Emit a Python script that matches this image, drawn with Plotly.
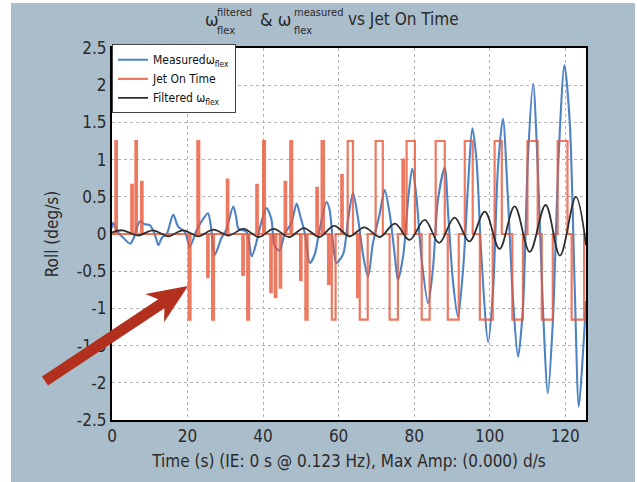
import math
import plotly.graph_objects as go

# ---------------- data ----------------
meas_t = [0, 0.3, 1.5, 3, 4.8, 5.7, 7.4, 8.7, 10, 11.3, 12.3, 13.2, 14.5, 16.2, 17.5, 19.3, 20.6,
          22.4, 24.1, 25.4, 26.2, 27.2, 29, 30.2, 32.1, 32.9, 33.5, 35.6, 37, 38.4, 39.6, 40.9,
          42.2, 43.1, 44.4, 45.7, 47.5, 48.9, 49.8, 51.1, 52.4, 53.7, 55, 56.8, 57.6, 58.5, 59.4,
          61.2, 62.5, 63.8, 65.2, 66.5, 67.8, 69.1, 70.9, 72.2, 73.5, 74.9, 75.7, 77.1, 78.4,
          79.5, 80.6, 81.9, 83.7, 85, 86.3, 88.1, 89, 90.3, 91.6, 93, 94.3, 95.4, 96.5, 97.8,
          99.6, 100.9, 102.2, 103.5, 104.8, 106.2, 107.5, 108.8, 110.1, 111.5, 112.8, 114.1,
          115.4, 116.7, 118.3, 119.8, 121.2, 122.5, 123.6, 124.7, 125.5]
meas_v = [0.08, 0.15, 0.03, -0.05, -0.13, -0.06, 0.17, 0.13, 0.12, 0.0, -0.15, -0.05, 0.0, 0.26,
          0.1, 0.03, -0.17, 0.05, 0.2, 0.28, 0.1, -0.28, -0.05, 0.05, 0.37, 0.22, 0.07, 0.03,
          -0.3, -0.08, 0.17, 0.35, 0.2, -0.17, -0.22, 0.0, 0.15, 0.41, 0.25, 0.0, -0.39, -0.27,
          0.07, 0.43, 0.33, -0.1, -0.39, -0.27, 0.19, 0.55, 0.19, -0.29, -0.57, -0.12, 0.28,
          0.59, 0.28, -0.3, -0.62, -0.29, 0.46, 0.88, 0.5, -0.3, -0.93, -0.45, 0.46, 0.89, 0.28,
          -0.65, -1.11, -0.45, 0.68, 1.42, 1.0, -0.3, -1.45, -0.75, 0.9, 1.55, 0.5, -0.9, -1.65,
          -1.0, 1.0, 2.02, 0.8, -1.0, -2.14, -1.2, 1.1, 2.27, 1.5, -0.7, -2.32, -1.6, -0.9]

filt_t = [0, 2.8, 6.9, 10.8, 14.9, 18.8, 22.9, 26.8, 30.9, 34.8, 38.9, 42.8, 46.9, 50.8, 54.9,
          58.8, 62.9, 66.8, 70.9, 74.9, 78.8, 82.8, 86.6, 90.7, 94.6, 98.7, 102.6, 106.6, 110.6,
          114.8, 118.6, 122.8, 125.5]
filt_v = [0.02, 0.05, -0.02, 0.05, -0.03, 0.05, -0.03, 0.06, -0.02, 0.07, -0.04, 0.07, -0.04,
          0.08, -0.04, 0.11, -0.03, 0.09, -0.04, 0.14, -0.08, 0.19, -0.12, 0.22, -0.1, 0.3, -0.2,
          0.37, -0.24, 0.39, -0.29, 0.5, -0.15]

jet_start = [0.9, 5.1, 6.2, 7.7, 20.3, 22.6, 25.2, 26.5, 30.4, 34.5, 35.8, 38.2, 40.0, 41.9,
             43.1, 44.4, 45.7, 47.2, 49.8, 51.2, 54.1, 55.5, 57.2, 58.2, 60.7, 62.4, 64.9, 65.6,
             69.8, 73.5, 76.9, 78.0, 82.0, 85.7, 88.9, 93.4, 97.4, 101.3, 106.0, 110.0, 113.8,
             118.0, 121.7]
jet_end = [1.3, 5.5, 6.6, 8.1, 20.8, 23.1, 25.6, 27.0, 30.8, 34.9, 36.3, 38.6, 40.5, 42.3,
           43.5, 44.8, 46.1, 47.7, 50.2, 51.8, 54.5, 56.1, 57.6, 59.2, 61.1, 63.8, 65.3, 67.7,
           71.7, 75.7, 77.3, 80.2, 84.1, 88.1, 91.8, 95.5, 100.8, 103.2, 108.8, 112.7, 116.7,
           120.6, 125.0]
jet_level = [1.25, 0.66, 1.25, 0.70, -1.15, 1.25, -0.58, -1.15, 0.73, -0.55, -1.15, 0.66, 1.25,
             -0.78, -0.85, -0.72, 0.70, 1.25, -0.62, -1.15, 0.62, 1.25, -0.67, -1.15, 0.79, 1.25,
             -0.85, -1.15, 1.25, -1.15, 1.0, 1.25, -1.15, 1.25, -1.15, 1.25, -1.15, 1.25, -1.15,
             1.25, -1.15, 1.25, -1.15]

x_tick_vals = [0, 20, 40, 60, 80, 100, 120]
x_tick_text = ["0", "20", "40", "60", "80", "100", "120"]
y_tick_vals = [2.5, 2, 1.5, 1, 0.5, 0, -0.5, -1, -1.5, -2, -2.5]
y_tick_text = ["2.5", "2", "1.5", "1", "0.5", "0", "-0.5", "-1", "-1.5", "-2", "-2.5"]

# ---------------- build jet step series from pulses ----------------
jet_t, jet_v = [0.0], [0.0]
for s, e, lv in zip(jet_start, jet_end, jet_level):
    jet_t += [s, s, e, e]
    jet_v += [0, lv, lv, 0]
jet_t.append(125.5)
jet_v.append(0)

# ---------------- layout geometry ----------------
W, H = 637, 482
L, R, T, B = 112, 51, 48, 62
PW, PH = W - L - R, H - T - B


def px(x):
    return (x - L) / PW


def py(y):
    return 1 - (y - T) / PH


FONT = "DejaVu Sans Condensed, Roboto Condensed, Liberation Sans Narrow, Roboto, sans-serif"
TXT = "#2a2a2a"
BG = "#aabdca"

fig = go.Figure()
fig.add_trace(go.Scatter(x=meas_t, y=meas_v, mode="lines", name="Measuredω<sub>flex</sub>",
                         line=dict(color="#4d82c4", width=2.1, shape="spline", smoothing=0.8)))
fig.add_trace(go.Scatter(x=jet_t, y=jet_v, mode="lines", name="Jet On Time",
                         line=dict(color="rgba(232,88,58,0.8)", width=2.2)))
fig.add_trace(go.Scatter(x=filt_t, y=filt_v, mode="lines", name="Filtered ω<sub>flex</sub>",
                         line=dict(color="#2e2e2e", width=1.8, shape="spline", smoothing=1.0)))

ann = []
ty = py(19)
SUP, SUB = py(12), py(30)
ann.append(dict(text="ω", x=px(203), y=ty, font=dict(size=18)))
ann.append(dict(text="filtered", x=px(215), y=SUP, font=dict(size=11)))
ann.append(dict(text="flex", x=px(215), y=SUB, font=dict(size=11)))
ann.append(dict(text="& ω", x=px(258), y=ty, font=dict(size=18)))
ann.append(dict(text="measured", x=px(292), y=SUP, font=dict(size=11)))
ann.append(dict(text="flex", x=px(292), y=SUB, font=dict(size=11)))
ann.append(dict(text="vs Jet On Time", x=px(346), y=ty, font=dict(size=17)))
for a in ann:
    a.update(xref="paper", yref="paper", showarrow=False, xanchor="left", yanchor="middle")
    a["font"].update(family=FONT, color=TXT)

# ---------------- red arrow as a filled polygon ----------------
tail = (45, 381)
tip = (188, 286)
dx, dy = tip[0] - tail[0], tip[1] - tail[1]
ln = math.hypot(dx, dy)
ux, uy = dx / ln, dy / ln
nx, ny = -uy, ux
sw, hl, hw, notch = 5.5, 40, 17, 8
neck = (tip[0] - ux * (hl - notch), tip[1] - uy * (hl - notch))
base = (tip[0] - ux * hl, tip[1] - uy * hl)
pts = [
    (tail[0] + nx * sw, tail[1] + ny * sw),
    (neck[0] + nx * sw, neck[1] + ny * sw),
    (base[0] + nx * hw, base[1] + ny * hw),
    tip,
    (base[0] - nx * hw, base[1] - ny * hw),
    (neck[0] - nx * sw, neck[1] - ny * sw),
    (tail[0] - nx * sw, tail[1] - ny * sw),
]
path = "M " + " L ".join(f"{px(a):.5f},{py(b):.5f}" for a, b in pts) + " Z"

shapes = [
    dict(type="path", path=path, xref="paper", yref="paper", fillcolor="#b3301f",
         line=dict(width=0), layer="above"),
    dict(type="rect", xref="paper", yref="paper", x0=px(-5), x1=px(11), y0=py(-5), y1=py(H + 5),
         fillcolor="white", line=dict(width=0), layer="above"),
    dict(type="rect", xref="paper", yref="paper", x0=px(-5), x1=px(W + 5), y0=py(3), y1=py(-5),
         fillcolor="white", line=dict(width=0), layer="above"),
    dict(type="rect", xref="paper", yref="paper", x0=px(635), x1=px(W + 5), y0=py(-5), y1=py(H + 5),
         fillcolor="white", line=dict(width=0), layer="above"),
]

fig.update_layout(
    width=W, height=H,
    margin=dict(l=L, r=R, t=T, b=B),
    paper_bgcolor=BG, plot_bgcolor="white",
    font=dict(family=FONT, color=TXT, size=17),
    annotations=ann, shapes=shapes,
    showlegend=True,
    legend=dict(x=0, y=1.01, xanchor="left", yanchor="top", bgcolor="white",
                bordercolor="#444", borderwidth=1, font=dict(size=12, family=FONT, color="#111"),
                tracegroupgap=0, itemwidth=30),
)
fig.update_xaxes(range=[0, 125.5], tickvals=x_tick_vals, ticktext=x_tick_text,
                 showgrid=True, gridcolor="#b4b4b4", griddash="dot", gridwidth=1,
                 showline=True, linecolor="black", linewidth=2, mirror=True, zeroline=False,
                 ticks="", tickfont=dict(size=17),
                 title=dict(text="Time (s) (IE: 0 s @ 0.123 Hz), Max Amp: (0.000) d/s",
                            font=dict(size=17), standoff=10))
fig.update_yaxes(range=[-2.5, 2.5], tickvals=y_tick_vals, ticktext=y_tick_text,
                 showgrid=True, gridcolor="#b4b4b4", griddash="dot", gridwidth=1,
                 showline=True, linecolor="black", linewidth=2, mirror=True, zeroline=False,
                 ticks="", tickfont=dict(size=17),
                 title=dict(text="Roll (deg/s)", font=dict(size=17), standoff=14))

fig.write_html("out.html")
